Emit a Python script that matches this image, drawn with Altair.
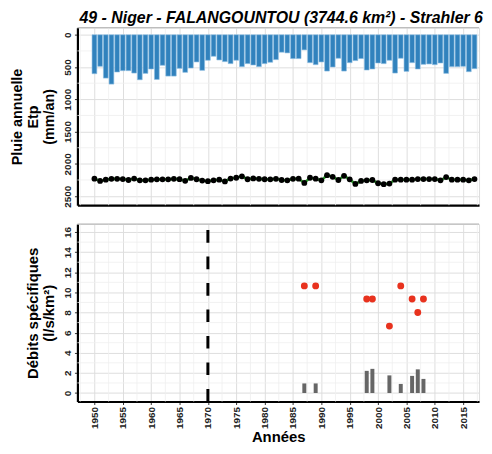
import altair as alt
import numpy as np
import pandas as pd

# ---------------- data ----------------
years = list(range(1950, 2018))
rain = [603, 489, 671, 764, 577, 556, 556, 593, 697, 598,
        530, 692, 473, 640, 640, 520, 582, 515, 421, 551,
        395, 333, 390, 416, 447, 395, 494, 447, 468, 494,
        447, 426, 385, 270, 281, 369, 369, 234, 432, 463,
        421, 562, 499, 364, 562, 432, 400, 369, 546, 530,
        437, 447, 395, 593, 364, 567, 432, 530, 458, 452,
        463, 437, 598, 494, 494, 489, 572, 525]
etp = [2230, 2265, 2245, 2232, 2232, 2235, 2250, 2228, 2255, 2255,
       2245, 2240, 2240, 2240, 2232, 2237, 2262, 2218, 2238, 2258,
       2268, 2255, 2245, 2272, 2228, 2215, 2192, 2238, 2225, 2232,
       2238, 2240, 2232, 2250, 2255, 2232, 2230, 2295, 2215, 2230,
       2255, 2175, 2200, 2250, 2185, 2240, 2310, 2265, 2255, 2250,
       2300, 2315, 2305, 2245, 2245, 2245, 2245, 2235, 2235, 2235,
       2235, 2255, 2205, 2245, 2245, 2245, 2255, 2235]

q_years = [1987, 1989, 1998, 1999, 2002, 2004, 2006, 2007, 2008]
q_spec = [10.65, 10.65, 9.35, 9.35, 6.65, 10.65, 9.35, 8.0, 9.35]
q_bar = [0.95, 0.95, 2.2, 2.4, 1.75, 0.9, 1.7, 2.35, 1.4]

break_year = [1970]

x_major = list(range(1950, 2016, 5))
x_minor = [1947.5 + 5 * i for i in range(15)]
ytop_major = [0, 500, 1000, 1500, 2000, 2500]
ytop_minor = [250, 750, 1250, 1750, 2250]
ybot_major = [0, 2, 4, 6, 8, 10, 12, 14, 16]
ybot_minor = [1, 3, 5, 7, 9, 11, 13, 15]

title_text = "49 - Niger - FALANGOUNTOU (3744.6 km²) - Strahler 6"

# ---------------- layout constants ----------------
W, H = 405, 179
FONT = "Liberation Sans"
MAJOR = "#dedede"
MINOR = "#efefef"

df_rain = pd.DataFrame({"year": years, "rain": rain, "etp": etp})
df_q = pd.DataFrame({"year": q_years, "q": q_spec, "n": q_bar})
df_brk = pd.DataFrame({"year": break_year})
df_one = pd.DataFrame({"a": [0]})
df_xminor = pd.DataFrame({"v": x_minor})
df_ytmin = pd.DataFrame({"v": ytop_minor})
df_ybmin = pd.DataFrame({"v": ybot_minor})

xscale = alt.Scale(domain=[1947.0, 2017.8], nice=False, zero=False)
yscale_top = alt.Scale(domain=[-110, 2640], reverse=True, nice=False, zero=False)
yscale_bot = alt.Scale(domain=[-0.85, 16.8], nice=False, zero=False)

common_lab = dict(labelFont=FONT, labelFontSize=10, labelFontWeight="bold",
                  labelColor="#222222", labelAngle=270, labelOverlap=False,
                  labelFlush=False,
                  titleFont=FONT, titleFontWeight="bold",
                  titleColor="#000000", domainColor="#000000", domainWidth=2.2,
                  tickColor="#333333", tickSize=3, labelPadding=2,
                  grid=True, gridColor=MAJOR, gridWidth=1)

x_axis_top = alt.Axis(values=x_major, labels=False, ticks=False, title=None,
                      domainColor="#000000", domainWidth=2.2, labelOverlap=False,
                      grid=True, gridColor=MAJOR, gridWidth=1)
x_axis_bot = alt.Axis(values=x_major, format="d", title="Années",
                      labelAlign="right", labelBaseline="middle", titlePadding=1,
                      titleFontSize=15, **common_lab)

y_axis_top = alt.Axis(values=ytop_major, format="d",
                      title=["Pluie annuelle", "Etp", "(mm/an)"],
                      labelAlign="center", labelBaseline="bottom",
                      titleFontSize=14.5, titleLineHeight=16, titlePadding=6,
                      **common_lab)

y_axis_bot = alt.Axis(values=ybot_major, format="d",
                      title=["Débits spécifiques", "(l/s/km²)"],
                      labelAlign="center", labelBaseline="bottom",
                      titleFontSize=15, titleLineHeight=16, titlePadding=6,
                      **common_lab)


def XT(f):
    return alt.X(f, scale=xscale, axis=x_axis_top)


def YT(f):
    return alt.Y(f, scale=yscale_top, axis=y_axis_top)


def XB(f):
    return alt.X(f, scale=xscale, axis=x_axis_bot)


def YB(f):
    return alt.Y(f, scale=yscale_bot, axis=y_axis_bot)


# ---------------- top panel ----------------
base_top = alt.Chart(df_rain)

grid_x_top = alt.Chart(df_xminor).mark_rule(color=MINOR, strokeWidth=0.8).encode(
    x=XT("v:Q"))
grid_y_top = alt.Chart(df_ytmin).mark_rule(color=MINOR, strokeWidth=0.8).encode(
    y=YT("v:Q"))

bars = base_top.transform_calculate(
    x0="datum.year - 0.42", x1="datum.year + 0.42", z="0"
).mark_bar(color="#3182bd", stroke="#8cbde2", strokeWidth=0.6).encode(
    x=XT("x0:Q"), x2="x1:Q", y=YT("rain:Q"), y2="z:Q",
)

etp_line = base_top.mark_line(color="#2ca02c", strokeWidth=2.6).encode(
    x=XT("year:Q"), y=YT("etp:Q"))
etp_pts = base_top.mark_circle(color="#000000", size=34, opacity=1).encode(
    x=XT("year:Q"), y=YT("etp:Q"))

top_border = alt.Chart(df_one).mark_rule(color="#b0b0b0", strokeWidth=1).encode(
    x=alt.value(0), x2=alt.value(W), y=alt.value(0)
)

top = alt.layer(grid_x_top, grid_y_top, bars, etp_line, etp_pts,
                top_border).properties(
    width=W, height=H,
    title=alt.TitleParams(title_text, font=FONT, fontSize=16, fontWeight="bold",
                          fontStyle="italic", color="#000000", anchor="middle",
                          frame="group", offset=1, dx=3),
)

# ---------------- bottom panel ----------------
base_bot = alt.Chart(df_q)

grid_x_bot = alt.Chart(df_xminor).mark_rule(color=MINOR, strokeWidth=0.8).encode(
    x=XB("v:Q"))
grid_y_bot = alt.Chart(df_ybmin).mark_rule(color=MINOR, strokeWidth=0.8).encode(
    y=YB("v:Q"))

qbars = base_bot.transform_calculate(
    x0="datum.year - 0.35", x1="datum.year + 0.35", z="0"
).mark_bar(color="#666666").encode(
    x=XB("x0:Q"), x2="x1:Q", y=YB("n:Q"), y2="z:Q",
)

qpts = base_bot.mark_circle(color="#e8321e", size=48, opacity=1).encode(
    x=XB("year:Q"), y=YB("q:Q"))

brk = alt.Chart(df_brk).mark_rule(color="#000000", strokeWidth=3,
                                  strokeDash=[12.7, 14]).encode(
    x=XB("year:Q"), y=alt.value(H), y2=alt.value(0),
)

bot_border = alt.Chart(df_one).mark_rule(color="#b0b0b0", strokeWidth=1).encode(
    x=alt.value(0), x2=alt.value(W), y=alt.value(0)
)

bottom = alt.layer(grid_x_bot, grid_y_bot, qbars, brk, qpts,
                   bot_border).properties(width=W, height=H)

chart = alt.vconcat(top, bottom, spacing=14).properties(
    padding={"left": 1, "top": 0, "right": 0, "bottom": 0},
).configure_view(stroke=None).configure_axis(
    labelOverlap=False
).configure(background="white")

chart.save("out.html", embed_options={"renderer": "svg", "actions": False})
